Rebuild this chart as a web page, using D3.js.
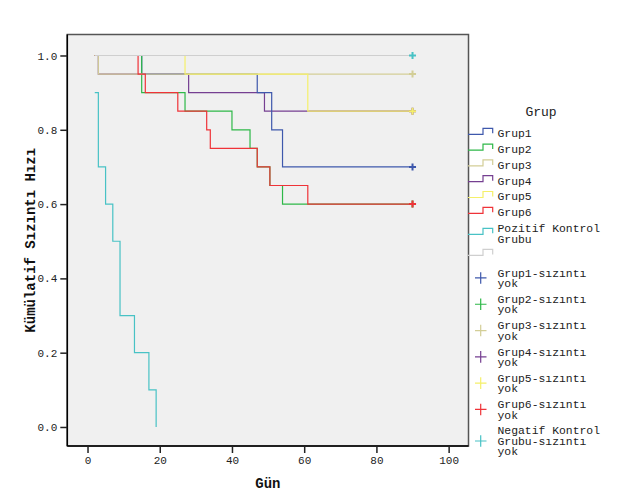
<!DOCTYPE html>
<html><head><meta charset="utf-8">
<script src="https://cdn.jsdelivr.net/npm/d3@7"></script>
<style>body{margin:0;background:#fff}svg{display:block}text{font-family:"Liberation Mono","DejaVu Sans Mono",monospace}</style>
</head><body>
<svg id="c" width="625" height="500"></svg>
<script>
// ---- data ----
const groupNames = ["Grup1","Grup2","Grup3","Grup4","Grup5","Grup6","Pozitif Kontrol Grubu",""];
const groupColors = ["#3e58ac","#2eb848","#d3ce97","#753f91","#f5f06a","#ef3338","#48c2c5","#cfcfcf"];
const grup1Times = [2,15,47,51,54,90];            const grup1Surv = [1,0.95,0.9,0.8,0.7,0.7];
const grup2Times = [2,15,27,40,45,47,50.5,54,90]; const grup2Surv = [1,0.9,0.85,0.8,0.75,0.7,0.65,0.6,0.6];
const grup3Times = [2,3,90];                      const grup3Surv = [1,0.95,0.95];
const grup4Times = [2,3,28,49,90];                const grup4Surv = [1,0.95,0.9,0.85,0.85];
const grup5Times = [2,27,61,90];                  const grup5Surv = [1,0.95,0.85,0.85];
const grup6Times = [2,14,16,25,33,34,47,50.5,61,90]; const grup6Surv = [1,0.95,0.9,0.85,0.8,0.75,0.7,0.65,0.6,0.6];
const pozitifTimes = [2,3,5,7,9,13,17,19];        const pozitifSurv = [0.9,0.7,0.6,0.5,0.3,0.2,0.1,0];
const negatifTimes = [2,90];                      const negatifSurv = [1,1];
const censorLabels = ["Grup1-sızıntı yok","Grup2-sızıntı yok","Grup3-sızıntı yok","Grup4-sızıntı yok","Grup5-sızıntı yok","Grup6-sızıntı yok","Negatif Kontrol Grubu-sızıntı yok"];
const censorColors = ["#3e58ac","#2eb848","#d3ce97","#753f91","#f5f06a","#ef3338","#48c2c5"];
const censorTimes = [90,90,90,90,90,90,90];
const censorSurv = [0.7,0.6,0.95,0.85,0.85,0.6,1.0];
const xTicks = [0,20,40,60,80,100];
const yTicks = [0,0.2,0.4,0.6,0.8,1.0];
const xTitle = "Gün", yTitle = "Kümülatif Sızıntı Hızı", legendTitle = "Grup";

const series = [
  [grup1Times,grup1Surv],[grup2Times,grup2Surv],[grup3Times,grup3Surv],[grup4Times,grup4Surv],
  [grup5Times,grup5Surv],[grup6Times,grup6Surv],[pozitifTimes,pozitifSurv],[negatifTimes,negatifSurv]
].map(([t,s],i)=>({color:groupColors[i],pts:t.map((v,j)=>[v,s[j]])}));
const drawOrder=[3,0,1,2,4,5,6,7];

// ---- layout ----
const L=67.3,R=468.5,T=34.5,B=446;
const x=d3.scaleLinear().domain([-5.6,105.5]).range([L,R]);
const y=d3.scaleLinear().domain([-0.0512,1.0565]).range([B,T]);
const svg=d3.select("#c");

svg.append("rect").attr("x",L).attr("y",T).attr("width",R-L).attr("height",B-T)
  .attr("fill","#f0f0f0").attr("stroke","#555").attr("stroke-width",1.5);

const line=d3.line().x(d=>x(d[0])).y(d=>y(d[1])).curve(d3.curveStepAfter);
svg.append("g").selectAll("path").data(drawOrder.map(i=>series[i])).join("path")
  .attr("d",d=>line(d.pts)).attr("fill","none").attr("stroke",d=>d.color).attr("stroke-width",1.2);

// censor marks
const cs=censorTimes.map((t,i)=>({t,s:censorSurv[i],c:censorColors[i]}));
const cg=svg.append("g").selectAll("g").data(cs).join("g")
  .attr("transform",d=>`translate(${x(d.t)},${y(d.s)})`);
cg.append("path").attr("d","M-3.5,0H3.5M0,-3.5V3.5").attr("stroke",d=>d.c).attr("stroke-width",2);

// axes
const xa=svg.append("g").attr("transform",`translate(0,${B})`)
  .call(d3.axisBottom(x).tickValues(xTicks).tickFormat(d3.format("d")).tickSize(7).tickPadding(3));
const ya=svg.append("g").attr("transform",`translate(${L},0)`)
  .call(d3.axisLeft(y).tickValues(yTicks).tickFormat(d3.format(".1f")).tickSize(7).tickPadding(3));
[xa,ya].forEach(a=>{
  a.select(".domain").attr("stroke","#000").attr("stroke-width",1.5);
  a.selectAll(".tick line").attr("stroke","#222").attr("stroke-width",1.5);
  a.selectAll("text").attr("font-size",11).attr("fill","#222").attr("font-family","Liberation Mono");
});
xa.select(".domain").attr("d",`M${L},0H${R}`);
ya.select(".domain").attr("d",`M0,${T}V${B}`);

svg.append("text").attr("x",(L+R)/2).attr("y",488).attr("text-anchor","middle")
  .attr("font-size",14).attr("font-weight","bold").attr("fill","#111").text(xTitle);
svg.append("text").attr("transform",`translate(35,${(T+B)/2}) rotate(-90)`).attr("text-anchor","middle")
  .attr("font-size",14).attr("font-weight","bold").attr("fill","#111").text(yTitle);

// legend
svg.append("text").attr("x",541).attr("y",111.7).attr("dy","0.35em").attr("text-anchor","middle")
  .attr("font-size",13).attr("fill","#222").text(legendTitle);

const lineH=10.5,gap=5.3;
function wrap(s){
  const m = {"Pozitif Kontrol Grubu":["Pozitif Kontrol","Grubu"],
             "Negatif Kontrol Grubu-sızıntı yok":["Negatif Kontrol","Grubu-sızıntı","yok"]};
  if(m[s]) return m[s];
  if(s.length<=15) return [s];
  const k=s.lastIndexOf(" "); return [s.slice(0,k),s.slice(k+1)];
}
let cur=133.3-lineH/2;
const items=[];
groupNames.forEach((n,i)=>{const ls=wrap(n);items.push({type:"line",lines:ls,c:groupColors[i],top:cur});cur+=ls.length*lineH+gap;});
cur+=2.5;
censorLabels.forEach((n,i)=>{const ls=wrap(n);items.push({type:"plus",lines:ls,c:censorColors[i],top:cur});cur+=ls.length*lineH+gap;});
const lg=svg.append("g");
items.forEach(it=>{
  const c=it.top+it.lines.length*lineH/2;
  if(it.type==="line"){
    lg.append("path").attr("d",`M468,${c+1}H483V${c-5}H492.7V${c}`).attr("fill","none")
      .attr("stroke",it.c).attr("stroke-width",1.2);
  } else {
    lg.append("path").attr("d",`M475,${c}H486.5M480.7,${c-5.8}V${c+5.8}`).attr("stroke",it.c).attr("stroke-width",1.2);
  }
  it.lines.forEach((t,j)=>{
    lg.append("text").attr("x",497.5).attr("y",it.top+lineH*(j+0.5)).attr("dy","0.35em")
      .attr("font-size",11.4).attr("fill","#222").text(t);
  });
});
</script>
</body></html>
